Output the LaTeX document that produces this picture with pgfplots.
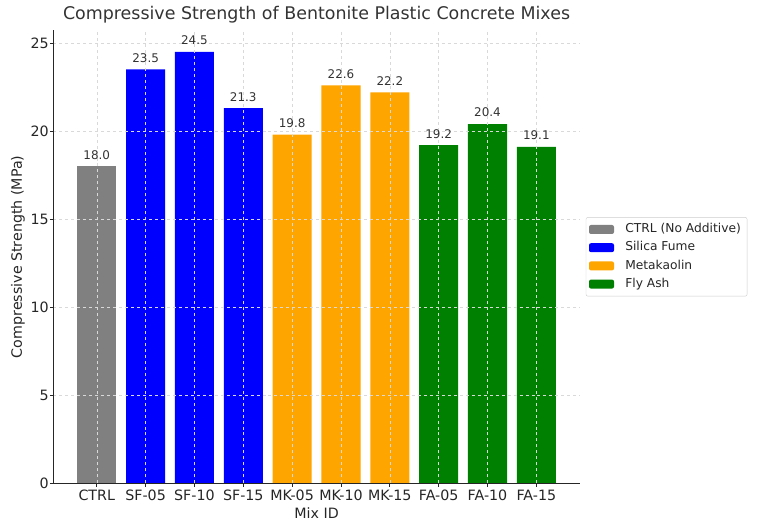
\documentclass[border=0pt]{standalone}
\usepackage{fontspec}
\setmainfont{DejaVu Sans}
\usepackage{pgfplots}
\pgfplotsset{compat=1.18}
\definecolor{txt}{HTML}{262626}
\definecolor{ttl}{HTML}{333333}
\begin{document}
\begin{tikzpicture}
\begin{axis}[
  width=526.5bp, height=453bp, scale only axis,
  xmin=-0.89, xmax=9.89, ymin=0, ymax=25.725,
  xtick={0,1,2,3,4,5,6,7,8,9},
  xticklabels={CTRL,SF-05,SF-10,SF-15,MK-05,MK-10,MK-15,FA-05,FA-10,FA-15},
  ytick={0,5,10,15,20,25},
  /pgf/number format/assume math mode=true,
  axis x line*=bottom, axis y line*=left,
  axis line style={-, txt, line width=0.8bp},
  grid=major, grid style={dashed, gray!30, line width=0.5bp},
  axis on top,
  tick style={txt, line width=0.8bp}, major tick length=3.5bp,
  xtick align=inside, ytick align=outside,
  ticklabel style={font=\fontsize{14.3}{17}\selectfont, text=txt},
  yticklabel style={xshift=2.5bp},
  xlabel={Mix ID}, ylabel={Compressive Strength (MPa)},
  label style={font=\fontsize{14.3}{17}\selectfont, text=txt},
  ylabel style={yshift=-1bp},
  title={Compressive Strength of Bentonite Plastic Concrete Mixes},
  title style={font=\fontsize{17.5}{21}\selectfont, text=ttl, at={(0.5,1)}, anchor=base, yshift=5bp},
  ybar, bar width=0.8, bar shift=0pt,
  nodes near coords,
  nodes near coords style={/pgf/number format/fixed, /pgf/number format/fixed zerofill, /pgf/number format/precision=1, /pgf/number format/assume math mode=true},
  every node near coord/.append style={font=\fontsize{12}{14}\selectfont, text=ttl, yshift=3.5bp},
  legend style={at={(1,0.5)}, anchor=west, xshift=6bp, draw=gray!40, rounded corners=2bp,
    font=\fontsize{12.3}{15}\selectfont, text=txt, row sep=0bp, inner xsep=3bp, inner ysep=3bp,
    nodes={inner sep=3.3bp, text height=9bp, text depth=2.6bp},
    /tikz/every odd column/.append style={column sep=8bp}},
  legend cell align=left,
  legend image code/.code={\fill[#1] (0bp,-4.5bp) rectangle (25bp,4.5bp);},
]
\addplot[fill=gray, draw=none] coordinates {(0,18.0)};
\addlegendentry{CTRL (No Additive)}
\addplot[fill=blue, draw=none] coordinates {(1,23.5) (2,24.5) (3,21.3)};
\addlegendentry{Silica Fume}
\addplot[fill={rgb,255:red,255;green,165;blue,0}, draw=none] coordinates {(4,19.8) (5,22.6) (6,22.2)};
\addlegendentry{Metakaolin}
\addplot[fill={rgb,255:red,0;green,128;blue,0}, draw=none] coordinates {(7,19.2) (8,20.4) (9,19.1)};
\addlegendentry{Fly Ash}
\end{axis}
\pgfresetboundingbox
\path[use as bounding box] ([xshift=-53.3bp,yshift=-46.7bp]current axis.south west) rectangle ++(757bp,530bp);
\end{tikzpicture}
\end{document}
